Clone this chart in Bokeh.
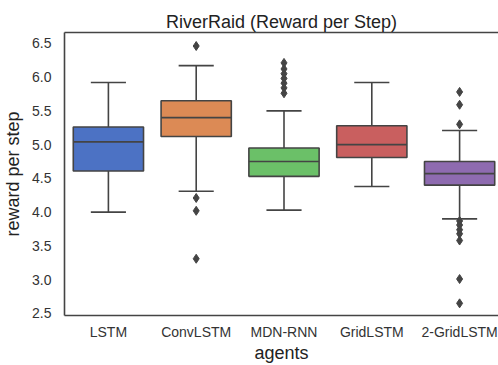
from bokeh.plotting import figure
from bokeh.models import FixedTicker, LinearAxis, ColumnDataSource, Range1d
from bokeh.embed import file_html
from bokeh.resources import INLINE

agents = ["LSTM", "ConvLSTM", "MDN-RNN", "GridLSTM", "2-GridLSTM"]
whisker_low = [4.00, 4.31, 4.03, 4.38, 3.90]
q1 = [4.61, 5.12, 4.53, 4.81, 4.40]
median = [5.04, 5.40, 4.75, 5.00, 4.57]
q3 = [5.26, 5.65, 4.95, 5.28, 4.75]
whisker_high = [5.92, 6.17, 5.50, 5.92, 5.21]
colors = ["#4C72C4", "#DC8A55", "#6BC068", "#C95F5F", "#8E6BB0"]

outlier_agent = [1, 1, 1, 1,
                 2, 2, 2, 2, 2, 2, 2,
                 4, 4, 4, 4, 4, 4, 4, 4, 4, 4]
outlier_value = [6.46, 4.21, 4.02, 3.31,
                 6.21, 6.12, 6.05, 5.98, 5.91, 5.84, 5.76,
                 5.78, 5.59, 5.30, 3.87, 3.81, 3.74, 3.68, 3.58, 3.01, 2.65]

yticks = [2.5, 3.0, 3.5, 4.0, 4.5, 5.0, 5.5, 6.0, 6.5]

FONT = "Liberation Sans"
LINE = "#444444"

x = list(range(len(agents)))
src = ColumnDataSource(dict(
    x=x, lo=whisker_low, q1=q1, med=median, q3=q3, hi=whisker_high, color=colors,
    xl=[v - 0.4 for v in x], xr=[v + 0.4 for v in x],
    cl=[v - 0.2 for v in x], cr=[v + 0.2 for v in x],
))

p = figure(width=498, height=365, output_backend="svg", toolbar_location=None,
           x_range=Range1d(-0.5, 4.443), y_range=Range1d(2.47, 6.66),
           min_border_left=63, min_border_right=0, min_border_top=32, min_border_bottom=48,
           title="RiverRaid (Reward per Step)")
p.outline_line_color = None
p.grid.grid_line_color = None
p.background_fill_color = "white"
p.title.align = "center"
p.title.text_font = FONT
p.title.text_font_size = "18px"
p.title.text_font_style = "normal"
p.title.text_color = "#222222"
p.title.standoff = 2

# whiskers
p.segment("x", "lo", "x", "q1", source=src, line_color=LINE, line_width=1.6)
p.segment("x", "q3", "x", "hi", source=src, line_color=LINE, line_width=1.6)
p.segment("cl", "lo", "cr", "lo", source=src, line_color=LINE, line_width=1.6)
p.segment("cl", "hi", "cr", "hi", source=src, line_color=LINE, line_width=1.6)
# boxes
p.vbar(x="x", width=0.8, bottom="q1", top="q3", source=src, fill_color="color",
       line_color=LINE, line_width=1.6)
p.segment("xl", "med", "xr", "med", source=src, line_color=LINE, line_width=1.6)
# outliers
p.scatter(outlier_agent, outlier_value, marker="diamond", size=9,
          fill_color=LINE, line_color=LINE)

# axes
xa = p.xaxis[0]
xa.ticker = FixedTicker(ticks=x)
xa.major_label_overrides = {i: a for i, a in enumerate(agents)}
ya = p.yaxis[0]
ya.ticker = FixedTicker(ticks=yticks)
ya.major_label_overrides = {v: f"{v:.1f}" for v in yticks}
for ax in (xa, ya):
    ax.axis_line_color = LINE
    ax.axis_line_width = 1.6
    ax.major_tick_line_color = None
    ax.minor_tick_line_color = None
    ax.major_label_text_font = FONT
    ax.major_label_text_font_size = "14px"
    ax.major_label_text_color = "#333333"
    ax.axis_label_text_font = FONT
    ax.axis_label_text_font_size = "18px"
    ax.axis_label_text_font_style = "normal"
    ax.axis_label_text_color = "#222222"
xa.major_label_standoff = 2
xa.axis_label = "agents"
xa.axis_label_standoff = 0
ya.major_label_standoff = 7
ya.axis_label = "reward per step"
ya.axis_label_standoff = 6

top = LinearAxis(ticker=FixedTicker(ticks=[]), axis_line_color=LINE, axis_line_width=1.6,
                 major_tick_line_color=None, minor_tick_line_color=None,
                 major_label_text_font_size="0px", major_label_standoff=0)
p.add_layout(top, "above")

open("out.html", "w").write(file_html(p, INLINE))
